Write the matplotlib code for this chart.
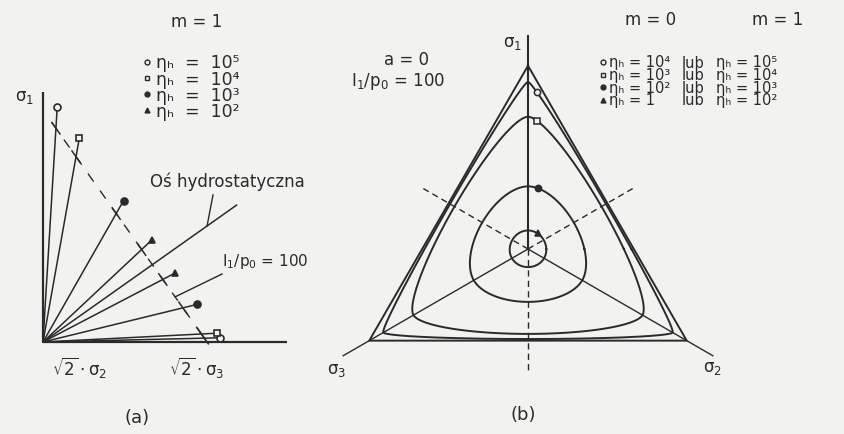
import numpy as np
import matplotlib
matplotlib.use("Agg")
import matplotlib.pyplot as plt

plt.rcParams["font.family"] = ["DejaVu Sans"]
plt.rcParams["mathtext.fontset"] = "dejavusans"

# ---- data: yield surface of the HISS-type model ----
ETA_M0 = ["10⁴", "10³", "10²", "1"]          # viscosity values for m = 0
ETA_M1 = ["10⁵", "10⁴", "10³", "10²"]        # viscosity values for m = 1
RHO_COMP = [72.0, 57.0, 27.0, 8.0]   # deviatoric radius, compression meridian, I1/p0 = 100
RHO_EXT = [38.8, 36.6, 22.8, 7.8]    # deviatoric radius, extension meridian, I1/p0 = 100
RHO_LIMIT = 79.0                     # sharp limit surface (compression radius)
I1_LEVEL = 100.0                     # I1/p0 of the deviatoric section
I1_END = 110.0                       # I1/p0 where meridians are terminated
I1_AXIS = 177.0                      # length of the drawn hydrostatic axis (I1/p0)
MARKERS = ["o", "s", "o", "^"]
FILLED = [False, False, True, True]

INK = "#2a2a2a"
BG = "#f2f2f0"
W, H = 844, 435
PX = 2.32  # pixels per stress unit (p0)

fig = plt.figure(figsize=(W / 100, H / 100), dpi=100, facecolor=BG)

# ---------------- panel (a): Rendulic plane ----------------
OA = (43, 343)  # origin in pixels
axa = fig.add_axes([0, 0, 320 / W, 1])
axa.set_xlim(-OA[0] / PX, (320 - OA[0]) / PX)
axa.set_ylim((OA[1] - H) / PX, OA[1] / PX)
axa.axis("off")

hvec = np.array([np.sqrt(2 / 3), np.sqrt(1 / 3)])
nvec = np.array([-np.sqrt(1 / 3), np.sqrt(2 / 3)])


def rendulic(i1, rho):
    return (i1 / np.sqrt(3)) * hvec + rho * nvec


def px_a(px, py):
    return np.array([(px - OA[0]) / PX, (OA[1] - py) / PX])


# coordinate axes
axa.plot([0, 0], [0, 107.8], color=INK, lw=1.6, solid_capstyle="butt")
axa.plot([0, 105], [0, 0], color=INK, lw=1.6, solid_capstyle="butt")

# hydrostatic axis
p_h = rendulic(I1_AXIS, 0)
axa.plot([0, p_h[0]], [0, p_h[1]], color=INK, lw=1.1)

# meridians with end markers
k = I1_END / I1_LEVEL
for rc, rt, mk, fl in zip(RHO_COMP, RHO_EXT, MARKERS, FILLED):
    for rho in (rc, -rt):
        pe = rendulic(I1_END, rho * k)
        axa.plot([0, pe[0]], [0, pe[1]], color=INK, lw=1.1)
        axa.plot(pe[0], pe[1], marker=mk, ms=5, mew=1.2, color=INK,
                 mfc=INK if fl else BG, zorder=5)

# trace of the deviatoric section I1/p0 = 100
s_top = max(RHO_COMP) + 3
s_bot = -max(RHO_EXT) - 1.5
pa, pb = rendulic(I1_LEVEL, s_top), rendulic(I1_LEVEL, s_bot)
axa.plot([pa[0], pb[0]], [pa[1], pb[1]], color=INK, lw=1.0,
         linestyle=(0, (7, 8)))
for rc, rt in zip(RHO_COMP, RHO_EXT):
    for rho in (rc, -rt):
        q1, q2 = rendulic(I1_LEVEL, rho - 3), rendulic(I1_LEVEL, rho + 3)
        axa.plot([q1[0], q2[0]], [q1[1], q2[1]], color=INK, lw=1.1)

# leader lines
q = rendulic(150, 0)
s = px_a(213, 196)
axa.plot([s[0], q[0]], [s[1], q[1]], color=INK, lw=1.0)
q = rendulic(I1_LEVEL, -17)
s = px_a(222, 275)
axa.plot([s[0], q[0]], [s[1], q[1]], color=INK, lw=1.0)

# ---------------- panel (b): deviatoric plane ----------------
OB = (528, 250)
axb = fig.add_axes([320 / W, 0, (W - 320) / W, 1])
axb.set_xlim((320 - OB[0]) / PX, (W - OB[0]) / PX)
axb.set_ylim((OB[1] - H) / PX, OB[1] / PX)
axb.axis("off")
axb.patch.set_alpha(0)


def willam_warnke(theta, rc, rt):
    t = np.mod(theta - np.radians(30), 2 * np.pi / 3)
    phi = np.minimum(t, 2 * np.pi / 3 - t)
    c = np.cos(phi)
    d = rc ** 2 - rt ** 2
    root = np.sqrt(np.maximum(4 * d * c ** 2 + 5 * rt ** 2 - 4 * rt * rc, 0))
    num = 2 * rc * d * c + rc * (2 * rt - rc) * root
    den = 4 * d * c ** 2 + (rc - 2 * rt) ** 2
    return num / den


comp_dirs = np.radians([90, 210, 330])
ext_dirs = np.radians([270, 30, 150])

# principal stress axes and their negative directions
for a in comp_dirs:
    lw = 1.5 if np.isclose(a, np.pi / 2) else 1.0
    axb.plot([0, 92 * np.cos(a)], [0, 92 * np.sin(a)], color=INK, lw=lw)
for a in ext_dirs:
    axb.plot([0, 53 * np.cos(a)], [0, 53 * np.sin(a)], color=INK, lw=1.0,
             linestyle=(0, (4.5, 3)))

# limit triangle
va = np.append(comp_dirs, comp_dirs[0])
axb.plot(RHO_LIMIT * np.cos(va), RHO_LIMIT * np.sin(va), color=INK, lw=1.4)

theta = np.linspace(0, 2 * np.pi, 1441)
for rc, rt, mk, fl in zip(RHO_COMP, RHO_EXT, MARKERS, FILLED):
    r = willam_warnke(theta, rc, rt)
    axb.plot(r * np.cos(theta), r * np.sin(theta), color=INK, lw=1.4)
    tm = np.pi / 2 - np.arcsin(min(4.2 / rc, 0.9))
    rm = willam_warnke(np.array([tm]), rc, rt)[0]
    axb.plot(rm * np.cos(tm), rm * np.sin(tm), marker=mk, ms=4.5, mew=1.1,
             color=INK, mfc=INK if fl else BG, zorder=5)

# ---------------- text overlay in pixel coordinates ----------------
ov = fig.add_axes([0, 0, 1, 1])
ov.set_xlim(0, W)
ov.set_ylim(H, 0)
ov.axis("off")
ov.patch.set_alpha(0)
renderer = fig.canvas.get_renderer()


def txt(x, y, s, size=12, ha="center", va="center"):
    ov.text(x, y, s, fontsize=size, ha=ha, va=va, color=INK)


def text_rows(x, base0, lines, spacing, size):
    """Multi-line text block with a fixed baseline pitch (pixels);
    returns the baseline of every row."""
    t = ov.text(x, base0, "\n".join(lines), fontsize=size, ha="left",
                va="top", color=INK, linespacing=1.0)
    _, info, _ = t._get_layout(renderer)
    t.set_linespacing(spacing / (info[0][3] - info[1][3]))
    _, info, _ = t._get_layout(renderer)
    ys = [it[3] for it in info]
    t.set_y(base0 + ys[0])
    return [base0 + ys[0] - yi for yi in ys]


def legend_markers(x, baselines, size):
    lift = 0.3 * size * 100 / 72
    for b, mk, fl in zip(baselines, MARKERS, FILLED):
        ov.plot(x, b - lift, marker=mk, ms=3.5, mew=1.0, color=INK,
                mfc=INK if fl else BG)


ETA = "ηₕ"

# panel (a) texts
txt(197, 22, "m = 1")
bl = text_rows(156, 68.5, [ETA + "  =  " + v for v in ETA_M1], 15.5, 12.5)
legend_markers(147, bl, 12.5)
txt(25, 97, r"$\mathregular{\sigma_1}$")
txt(150, 182, "Oś hydrostatyczna", ha="left")
txt(222, 262, "I$_1$/p$_0$ = 100", size=11, ha="left")
txt(80, 368, r"$\mathregular{\sqrt{2}\cdot\sigma_2}$")
txt(197, 368, r"$\mathregular{\sqrt{2}\cdot\sigma_3}$")
txt(137, 418, "(a)", size=13)

# panel (b) texts
txt(651, 20, "m = 0")
txt(778, 20, "m = 1")
bl = text_rows(609, 67.5, [ETA + " = " + v for v in ETA_M0], 12, 10.5)
legend_markers(603, bl, 10.5)
text_rows(682, 67.5, ["lub"] * len(ETA_M0), 12, 10.5)
text_rows(716, 67.5, [ETA + " = " + v for v in ETA_M1], 12, 10.5)
txt(513, 43, r"$\mathregular{\sigma_1}$")
txt(337, 370, r"$\mathregular{\sigma_3}$")
txt(712, 368, r"$\mathregular{\sigma_2}$")
txt(407, 60, "a = 0")
txt(398, 82, "I$_1$/p$_0$ = 100")
txt(523, 415, "(b)", size=13)

fig.savefig("out.png", dpi=100, facecolor=BG)
